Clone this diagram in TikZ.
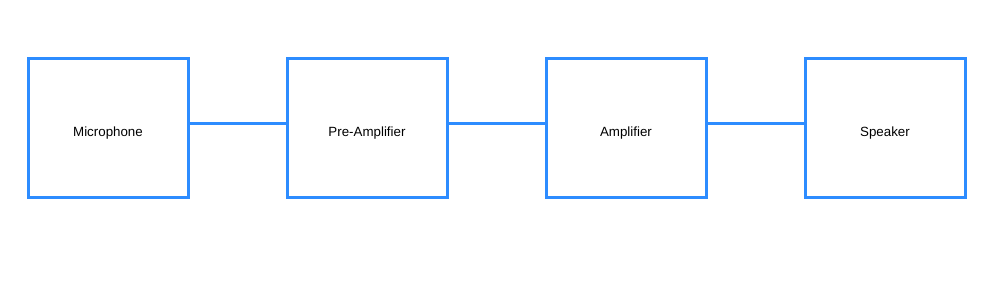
\documentclass[tikz,border=0pt]{standalone}
\usepackage{fontspec}
\setmainfont{Liberation Sans}
\usepackage{xcolor}
\usetikzlibrary{positioning}
\definecolor{boxblue}{RGB}{45,140,255}
\tikzset{
  blk/.style ={rectangle, draw=boxblue, line width=2.25pt, fill=white,
               align=center, inner sep=0pt, font=\fontsize{10}{12}\selectfont,
               text height=14pt, text depth=1.3pt,
               minimum width=120pt, minimum height=103.5pt},
  wire/.style={draw=boxblue, line width=2.25pt},
}
\begin{document}
\begin{tikzpicture}[node distance=72pt]
  % canvas
  \useasboundingbox (0,0) rectangle (750pt,-213.75pt);

  % chain of blocks
  \node[blk] (mic) at (81pt,-96pt) {Microphone};
  \node[blk, right=of mic] (preamp) {Pre-Amplifier};
  \node[blk, right=of preamp] (amp) {Amplifier};
  \node[blk, right=of amp] (spk) {Speaker};

  % links
  \draw[wire] ([yshift=3.5pt]mic.east) -- ([yshift=3.5pt]preamp.west);
  \draw[wire] ([yshift=3.5pt]preamp.east) -- ([yshift=3.5pt]amp.west);
  \draw[wire] ([yshift=3.5pt]amp.east) -- ([yshift=3.5pt]spk.west);
\end{tikzpicture}
\end{document}
